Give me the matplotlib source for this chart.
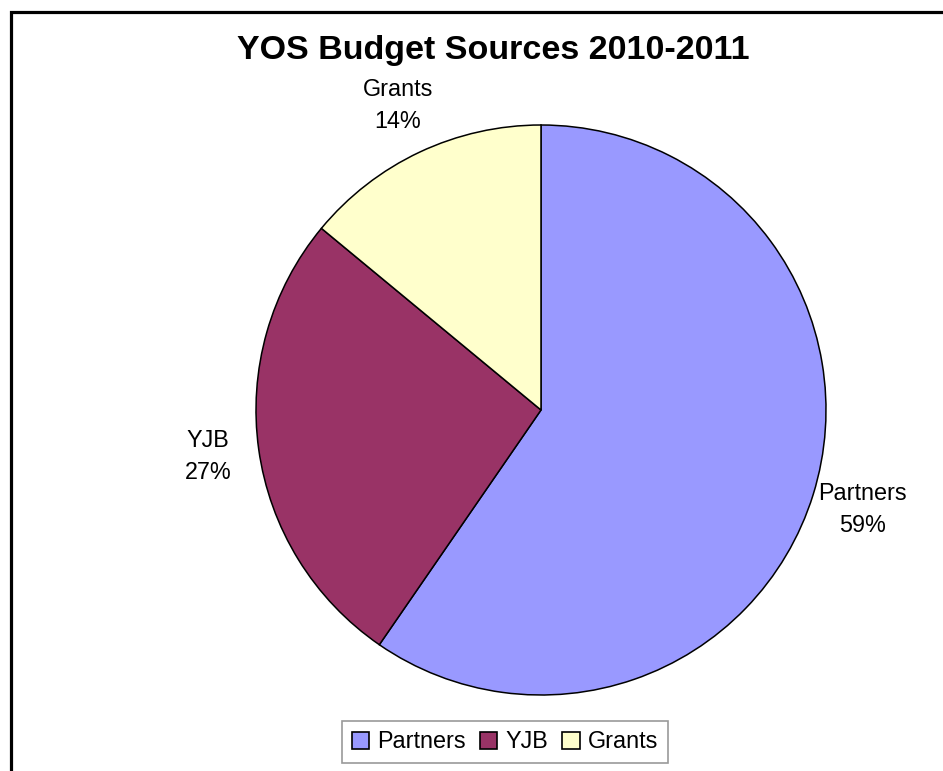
import matplotlib.pyplot as plt
from matplotlib.patches import Rectangle

# data
sources = ["Partners", "YJB", "Grants"]
shares = [59.6, 26.4, 14.0]
pct_labels = ["59%", "27%", "14%"]
colors = ["#9999FF", "#993366", "#FFFFCC"]

plt.rcParams['font.family'] = ['Liberation Sans', 'DejaVu Sans']

fig = plt.figure(figsize=(9.43, 7.71), dpi=100)
ax = fig.add_axes([256 / 943, 76 / 771, 570 / 943, 570 / 771])

labels = [f"{s}\n{p}" for s, p in zip(sources, pct_labels)]
wedges, texts = ax.pie(shares, labels=labels, colors=colors, startangle=90,
                       counterclock=False, labeldistance=1.18,
                       wedgeprops=dict(edgecolor="black", linewidth=1.1),
                       textprops=dict(fontsize=16.8, linespacing=1.5))
for t in texts:
    t.set_horizontalalignment("center")
    t.set_verticalalignment("center")
ax.set_xlim(-1, 1)
ax.set_ylim(-1, 1)
ax.set_aspect("equal")

fig.text(493 / 943, 1 - 50 / 771, "YOS Budget Sources 2010-2011",
         ha="center", va="center", fontsize=24.5, fontweight="bold")

leg = fig.legend(wedges, sources, loc="center", bbox_to_anchor=(505 / 943, 1 - 742 / 771),
                 ncol=3, fontsize=16.8, frameon=True, fancybox=False,
                 handlelength=0.75, handleheight=0.75, handletextpad=0.35,
                 columnspacing=0.6, borderpad=0.4)
leg.get_frame().set_edgecolor("#808080")
leg.get_frame().set_linewidth(1.2)
for h in leg.legend_handles:
    h.set_edgecolor("black")
    h.set_linewidth(1.2)

# outer chart border
fig.patches.append(Rectangle((10.5 / 943, -0.1), 1.2, 1.1 - 12 / 771,
                             transform=fig.transFigure, fill=False,
                             edgecolor="black", linewidth=2.3))

fig.savefig("out.png", dpi=100)
